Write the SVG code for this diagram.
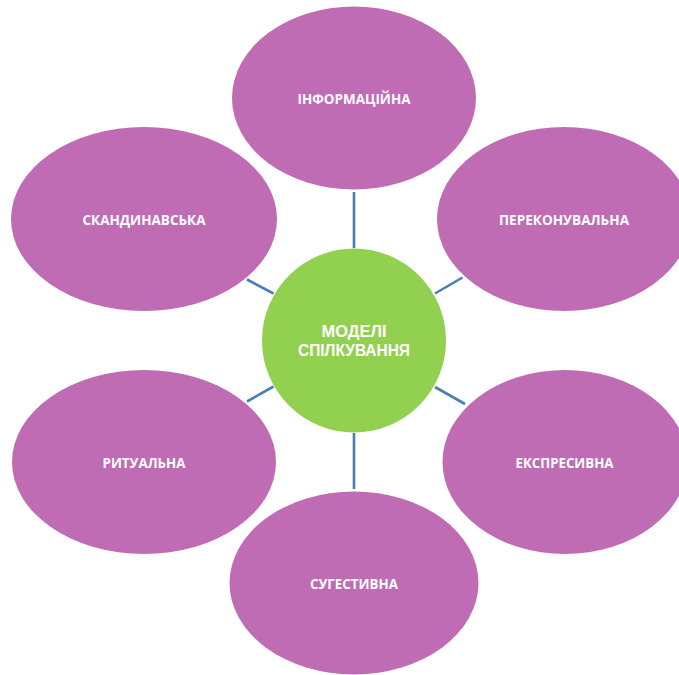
<svg xmlns="http://www.w3.org/2000/svg" width="679" height="675" viewBox="0 0 679 675">
  <style>
    .petal { fill: #C06CB4; }
    .hub { fill: #92D050; }
    .link { stroke: #4A7EB4; stroke-width: 2.6; fill: none; }
    .lbl { font-family: "Open Sans", "Noto Sans", sans-serif; font-weight: 700; fill: #FFFFFF; text-anchor: middle; }
    .small { font-size: 14.5px; }
    .big { font-family: "Liberation Sans", Arial, sans-serif; font-size: 16.5px; }
  </style>
  <rect width="679" height="675" fill="#FFFFFF"/>

  <g id="connectors">
    <line class="link" x1="354" y1="192" x2="354" y2="248"/>
    <line class="link" x1="247" y1="279.5" x2="273.5" y2="293.5"/>
    <line class="link" x1="435" y1="293.5" x2="462.5" y2="277.5"/>
    <line class="link" x1="247" y1="401.5" x2="273.5" y2="386.5"/>
    <line class="link" x1="435" y1="387" x2="465" y2="404"/>
    <line class="link" x1="354" y1="433" x2="354" y2="489"/>
  </g>

  <g id="node-informatsiina">
    <ellipse class="petal" cx="354" cy="98" rx="122" ry="91.5"/>
    <text class="lbl small" x="354" y="104" textLength="113" lengthAdjust="spacingAndGlyphs">ІНФОРМАЦІЙНА</text>
  </g>

  <g id="node-perekonuvalna">
    <ellipse class="petal" cx="564" cy="219" rx="127" ry="92"/>
    <text class="lbl small" x="564" y="225" textLength="130" lengthAdjust="spacingAndGlyphs">ПЕРЕКОНУВАЛЬНА</text>
  </g>

  <g id="node-skandynavska">
    <ellipse class="petal" cx="144" cy="219" rx="133" ry="92"/>
    <text class="lbl small" x="144" y="225" textLength="123" lengthAdjust="spacingAndGlyphs">СКАНДИНАВСЬКА</text>
  </g>

  <g id="node-rytualna">
    <ellipse class="petal" cx="144" cy="462" rx="132" ry="92"/>
    <text class="lbl small" x="144" y="468" textLength="83" lengthAdjust="spacingAndGlyphs">РИТУАЛЬНА</text>
  </g>

  <g id="node-ekspresyvna">
    <ellipse class="petal" cx="565" cy="462" rx="122.5" ry="92"/>
    <text class="lbl small" x="564.5" y="468" textLength="98" lengthAdjust="spacingAndGlyphs">ЕКСПРЕСИВНА</text>
  </g>

  <g id="node-sugestyvna">
    <ellipse class="petal" cx="354" cy="583" rx="124.5" ry="91.5"/>
    <text class="lbl small" x="354" y="589" textLength="88" lengthAdjust="spacingAndGlyphs">СУГЕСТИВНА</text>
  </g>

  <g id="node-modeli">
    <circle class="hub" cx="354" cy="340.5" r="92"/>
    <text class="lbl big" x="354" y="336.5" textLength="65" lengthAdjust="spacingAndGlyphs">МОДЕЛІ</text>
    <text class="lbl big" x="354" y="356" textLength="112" lengthAdjust="spacingAndGlyphs">СПІЛКУВАННЯ</text>
  </g>
</svg>
